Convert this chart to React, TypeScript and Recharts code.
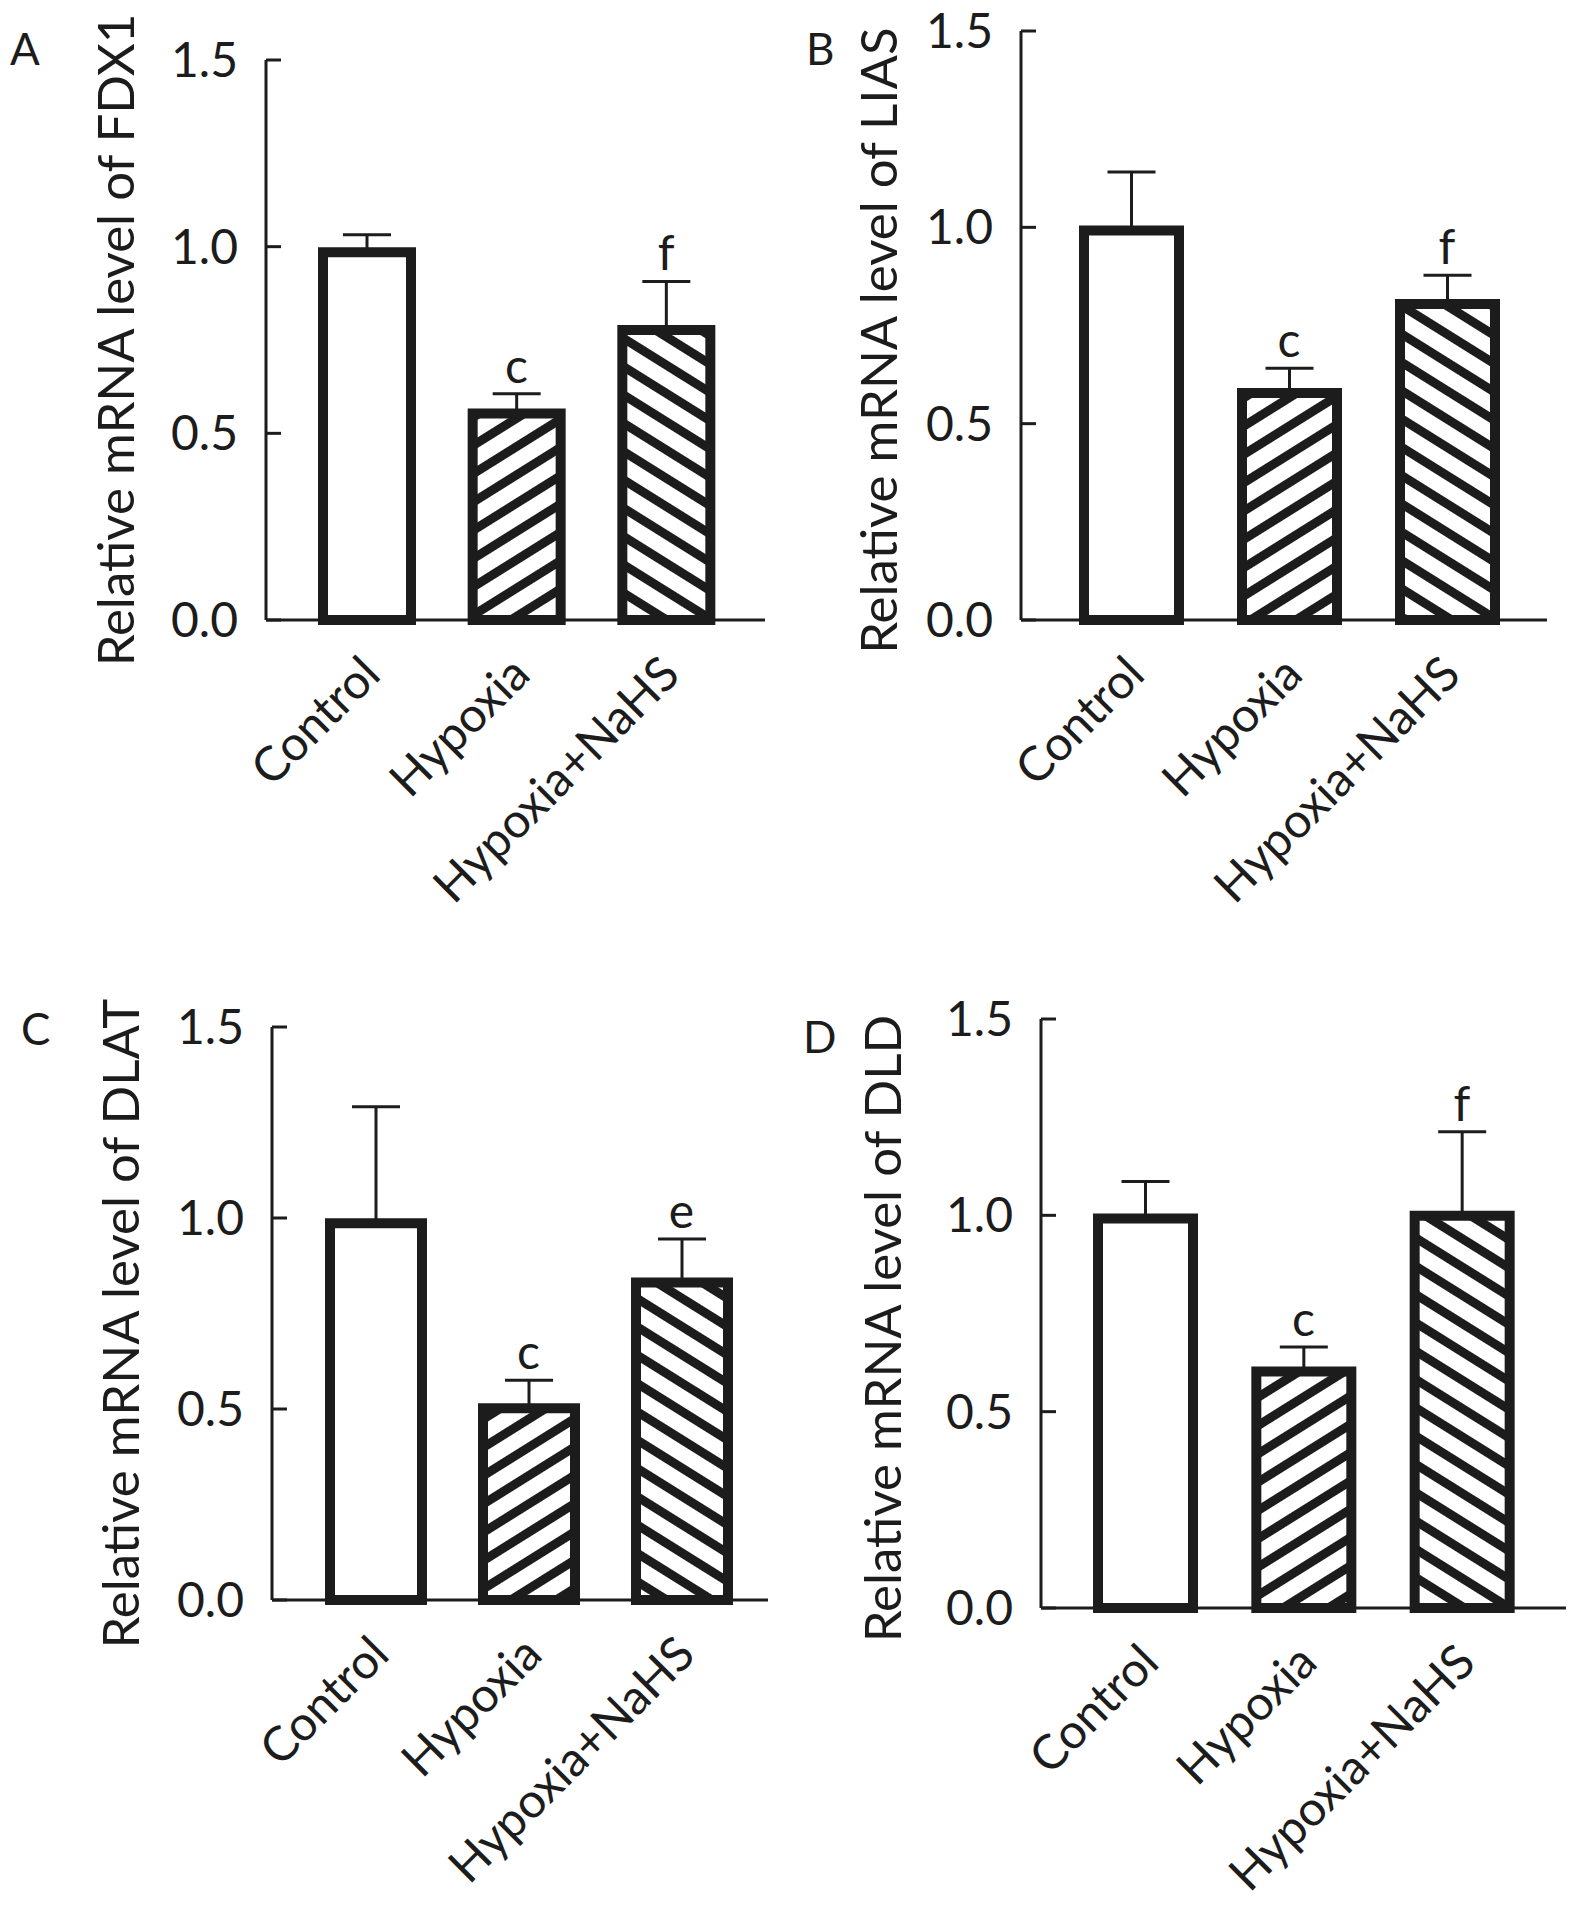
import React from 'react';
import { ComposedChart, Bar, Cell, Line, XAxis, YAxis, ErrorBar, LabelList } from 'recharts';

// groups and y ticks shared by all four panels
const groups = ['Control', 'Hypoxia', 'Hypoxia+NaHS'];
const yTicks = [0, 0.5, 1.0, 1.5];

// A - FDX1
const fdx1Mean = [0.985, 0.553, 0.777];
const fdx1Sd = [0.047, 0.053, 0.13];
const fdx1Sig = ['', 'c', 'f'];

// B - LIAS
const liasMean = [0.992, 0.578, 0.805];
const liasSd = [0.149, 0.063, 0.073];
const liasSig = ['', 'c', 'f'];

// C - DLAT
const dlatMean = [0.986, 0.502, 0.831];
const dlatSd = [0.305, 0.073, 0.114];
const dlatSig = ['', 'c', 'e'];

// D - DLD
const dldMean = [0.992, 0.602, 0.999];
const dldSd = [0.094, 0.063, 0.214];
const dldSig = ['', 'c', 'f'];

const FONT = 'Lato, "Noto Sans", sans-serif';
const INK = '#1c1c1c';

const buildRows = (mean: number[], sd: number[], sig: string[]) =>
  groups.map((name, i) => ({
    name,
    value: mean[i],
    err: [0, sd[i]],
    top: mean[i] + sd[i],
    sig: sig[i],
  }));

interface PanelProps {
  id: string;
  letter: string;
  title: string;
  rows: ReturnType<typeof buildRows>;
  left: number;
  top: number;
  width: number;
  height: number;
  axisX: number; // relative to panel box
  plotTop: number;
  plotBottom: number;
  xEnd: number;
  padL: number;
  padR: number;
  barSize: number;
  labelGap: number;
  labelShift: number;
  letterX: number;
  letterY: number;
}

const XTick = (props: any) => {
  const { x, y, payload } = props;
  const px = x + 16;
  const py = y + 57;
  return (
    <text
      x={px}
      y={py}
      transform={`rotate(-45, ${px}, ${py})`}
      textAnchor="end"
      fontSize={48}
      fontFamily={FONT}
      fill={INK}
    >
      {payload.value}
    </text>
  );
};

const Panel: React.FC<PanelProps> = (p) => {
  const fills = ['#ffffff', `url(#fwd-${p.id})`, `url(#back-${p.id})`];
  return (
    <div style={{ position: 'absolute', left: p.left, top: p.top, width: p.width, height: p.height }}>
      <ComposedChart
        width={p.width}
        height={p.height}
        data={p.rows}
        margin={{ top: p.plotTop, right: p.width - p.xEnd, bottom: 0, left: 0 }}
      >
        <defs>
          <pattern id={`fwd-${p.id}`} patternUnits="userSpaceOnUse" width={24} height={24} patternTransform="rotate(-32)">
            <rect x={0} y={0} width={24} height={24} fill="#ffffff" />
            <rect x={0} y={0} width={24} height={9} fill={INK} />
          </pattern>
          <pattern id={`back-${p.id}`} patternUnits="userSpaceOnUse" width={24} height={24} patternTransform="rotate(32)">
            <rect x={0} y={0} width={24} height={24} fill="#ffffff" />
            <rect x={0} y={0} width={24} height={9} fill={INK} />
          </pattern>
        </defs>
        <XAxis
          dataKey="name"
          type="category"
          height={p.height - p.plotBottom}
          padding={{ left: p.padL, right: p.padR }}
          axisLine={{ stroke: INK, strokeWidth: 3 }}
          tickLine={false}
          tickSize={0}
          tickMargin={0}
          interval={0}
          tick={<XTick />}
        />
        <YAxis
          yAxisId="v"
          width={p.axisX}
          domain={[0, 1.5]}
          ticks={yTicks}
          interval={0}
          tickFormatter={(v: number) => v.toFixed(1)}
          axisLine={{ stroke: INK, strokeWidth: 3 }}
          tickLine={{ stroke: INK, strokeWidth: 3 }}
          tickSize={-15}
          tickMargin={43}
          tick={{ fontSize: 48, fontFamily: FONT, fill: INK }}
          label={{
            content: (lp: any) => {
              const vb = lp.viewBox || {};
              const cx = vb.x + vb.width - p.labelGap + 18;
              const cy = vb.y + vb.height / 2 + p.labelShift;
              return (
                <text
                  x={cx}
                  y={cy}
                  transform={`rotate(-90, ${cx}, ${cy})`}
                  textAnchor="middle"
                  fontSize={51}
                  fontFamily={FONT}
                  fill={INK}
                >
                  {p.title}
                </text>
              );
            },
          }}
        />
        <Bar
          yAxisId="v"
          dataKey="value"
          barSize={p.barSize}
          stroke={INK}
          strokeWidth={10}
          isAnimationActive={false}
        >
          {p.rows.map((r, i) => (
            <Cell key={r.name} fill={fills[i]} />
          ))}
          <ErrorBar dataKey="err" direction="y" width={24} stroke={INK} strokeWidth={3} />
        </Bar>
        <Line
          yAxisId="v"
          dataKey="top"
          stroke="none"
          dot={false}
          activeDot={false}
          isAnimationActive={false}
        >
          <LabelList dataKey="sig" position="top" offset={11} fontSize={48} fontFamily={FONT} fill={INK} />
        </Line>
        <text x={p.letterX} y={p.letterY} fontSize={44} fontFamily={FONT} fill={INK}>
          {p.letter}
        </text>
      </ComposedChart>
    </div>
  );
};

export default function App() {
  return (
    <div style={{ position: 'absolute', left: 0, top: 0, width: 1575, height: 1929, background: '#fff' }}>
      <Panel
        id="a" letter="A" title="Relative mRNA level of FDX1" rows={buildRows(fdx1Mean, fdx1Sd, fdx1Sig)}
        left={0} top={0} width={790} height={960}
        axisX={266} plotTop={60} plotBottom={620} xEnd={765} padL={26} padR={24} barSize={88}
        labelGap={150} labelShift={0} letterX={10} letterY={65}
      />
      <Panel
        id="b" letter="B" title="Relative mRNA level of LIAS" rows={buildRows(liasMean, liasSd, liasSig)}
        left={785} top={0} width={790} height={960}
        axisX={236} plotTop={31} plotBottom={620} xEnd={762} padL={31} padR={21} barSize={95}
        labelGap={142} labelShift={15} letterX={21} letterY={65}
      />
      <Panel
        id="c" letter="C" title="Relative mRNA level of DLAT" rows={buildRows(dlatMean, dlatSd, dlatSig)}
        left={0} top={980} width={790} height={949}
        axisX={272} plotTop={47} plotBottom={620} xEnd={768} padL={27} padR={10} barSize={92}
        labelGap={151} labelShift={10} letterX={21} letterY={65}
      />
      <Panel
        id="d" letter="D" title="Relative mRNA level of DLD" rows={buildRows(dldMean, dldSd, dldSig)}
        left={785} top={980} width={790} height={949}
        axisX={256} plotTop={39} plotBottom={628} xEnd={781} padL={25} padR={25} barSize={95}
        labelGap={158} labelShift={15} letterX={18} letterY={73}
      />
    </div>
  );
}
